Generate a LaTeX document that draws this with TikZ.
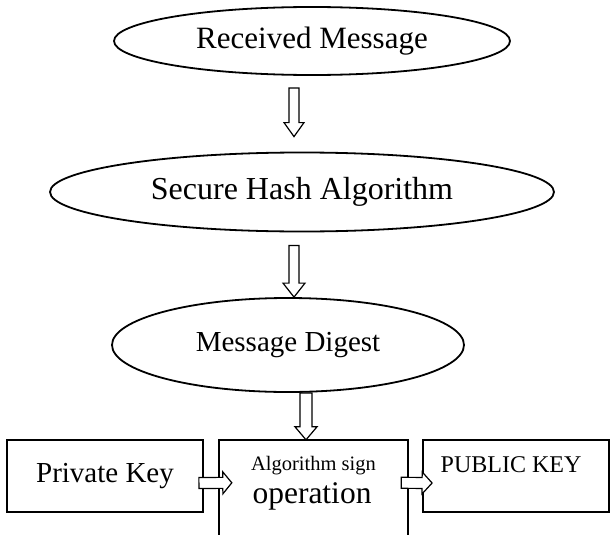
\documentclass[tikz,border=0pt]{standalone}
\usepackage{fontspec}
\setmainfont{Liberation Serif}
\usetikzlibrary{calc,shapes.geometric}
\tikzset{
  oval/.style={ellipse, draw, line width=1.8pt, inner sep=0pt},
  boxn/.style={rectangle, draw, line width=1.8pt, inner sep=0pt},
  barrow/.style={draw, line width=1.2pt, fill=white, line join=miter},
  bigtxt/.style={font=\fontsize{29}{34}\selectfont, inner sep=0pt},
  midtxt/.style={font=\fontsize{24}{28}\selectfont, inner sep=0pt},
  smalltxt/.style={font=\fontsize{20.5}{24}\selectfont, inner sep=0pt},
}
% #1 start, #2 end, #3 shaft half width, #4 head half width, #5 head length
\newcommand\blockarrow[5]{%
  \coordinate (bah) at ($(#2)!#5!(#1)$);
  \draw[barrow] ($(#1)!#3!90:(#2)$) -- ($(#1)!#3!-90:(#2)$)
    -- ($(bah)!#3!-90:(#2)$) -- ($(bah)!#4!-90:(#2)$) -- (#2)
    -- ($(bah)!#4!90:(#2)$) -- ($(bah)!#3!90:(#2)$) -- cycle;
}
\begin{document}
\begin{tikzpicture}[x=1pt,y=-1pt]
\useasboundingbox (0,0) rectangle (610,535);
\fill[white] (0,0) rectangle (610,535);

\node[oval, minimum width=396pt, minimum height=68pt, font=\fontsize{31}{36}\selectfont] (recv) at (312,41) {Received Message};
\node[oval, minimum width=504pt, minimum height=79pt, font=\fontsize{32}{37}\selectfont] (sha) at (302,192) {Secure Hash Algorithm};
\node[oval, minimum width=352pt, minimum height=94pt, font=\fontsize{29}{34}\selectfont] (dig) at (288,345) {Message Digest};

\node[boxn, minimum width=196pt, minimum height=72pt, bigtxt] (priv) at (105,476) {Private Key};
\node[minimum width=189pt, minimum height=100pt, inner sep=0pt] (sign) at (313.5,490) {};
\draw[line width=1.8pt] (sign.south west) |- (sign.north east) -- (sign.south east);
\node[smalltxt, anchor=base] (signa) at ($(sign.north)+(0,31)$) {Algorithm sign};
\node[font=\fontsize{31.5}{36}\selectfont, inner sep=0pt, anchor=base] (signb) at ($(sign.north)+(-1.5,64)$) {operation};
\node[boxn, minimum width=186pt, minimum height=72pt] (pub) at (516,476) {};
\node[midtxt, anchor=base] (pubt) at ($(pub.north)+(-5,33)$) {PUBLIC KEY};

\coordinate (a1s) at ($(recv.south)+(-18,12)$);
\coordinate (a1e) at ($(sha.north)+(-8,-15)$);
\coordinate (a2s) at ($(sha.south)+(-8,13)$);
\coordinate (a2e) at ($(dig.north)+(6,0)$);
\coordinate (a3s) at ($(dig.south)+(18,0)$);
\coordinate (a3e) at ($(sign.north)+(-7.5,0)$);
\coordinate (a4s) at ($(priv.east)+(-5,7)$);
\coordinate (a4e) at ($(sign.north west)+(13,43)$);
\coordinate (a5s) at ($(sign.north east)+(-7,43)$);
\coordinate (a5e) at ($(pub.west)+(10,7)$);

\blockarrow{a1s}{a1e}{5pt}{10pt}{14pt}
\blockarrow{a2s}{a2e}{5pt}{11pt}{14pt}
\blockarrow{a3s}{a3e}{6pt}{11pt}{13pt}
\blockarrow{a4s}{a4e}{5.5pt}{11pt}{9pt}
\blockarrow{a5s}{a5e}{5.5pt}{11pt}{10pt}
\end{tikzpicture}
\end{document}
